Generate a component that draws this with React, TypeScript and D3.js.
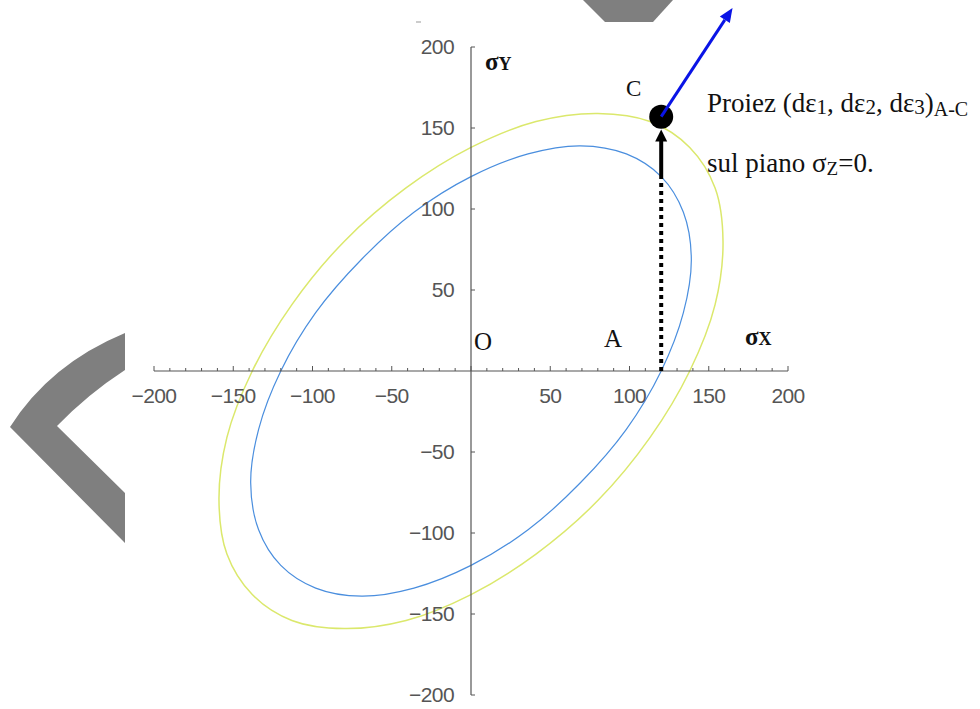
import React from "react";
import * as d3 from "d3";

// Tick values
const xTickValues = [-200, -150, -100, -50, 50, 100, 150, 200];
const yTickValues = [-200, -150, -100, -50, 50, 100, 150, 200];
const xMinorTicks = d3.range(-200, 201, 10);

// Inner (blue) yield curve (σX, σY)
const blueX = [120, 98, 69, 36, 0, -36, -69, -98, -120, -134, -139, -134, -120, -98, -69, -36, 0, 36, 69, 98, 120, 134, 139, 134];
const blueY = [120, 134, 139, 134, 120, 98, 69, 36, 0, -36, -69, -98, -120, -134, -139, -134, -120, -98, -69, -36, 0, 36, 69, 98];

// Outer (yellow) yield curve
const yellowX = [138, 113, 80, 41, 0, -41, -80, -113, -138, -154, -159, -154, -138, -113, -80, -41, 0, 41, 80, 113, 138, 154, 159, 154];
const yellowY = [138, 154, 159, 154, 138, 113, 80, 41, 0, -41, -80, -113, -138, -154, -159, -154, -138, -113, -80, -41, 0, 41, 80, 113];

// Points
const pointA = [120, 0];
const pointC = [120, 157];
const dottedTop = 121;
const blackArrowTip = 149;
const blueArrowTip = [165, 224];

const W = 980;
const H = 709;

export default function App() {
  const x = d3.scaleLinear().domain([-200, 200]).range([154, 788]);
  const y = d3.scaleLinear().domain([-200, 200]).range([695, 47]);

  const line = d3
    .line<[number, number]>()
    .x((d) => x(d[0]))
    .y((d) => y(d[1]))
    .curve(d3.curveCatmullRomClosed.alpha(0.5));

  const bluePts = blueX.map((v, i) => [v, blueY[i]] as [number, number]);
  const yellowPts = yellowX.map((v, i) => [v, yellowY[i]] as [number, number]);

  const x0 = x(0);
  const y0 = y(0);
  const axisColor = "#555";

  const serif = "'Liberation Serif', 'Times New Roman', serif";
  const sans = "'Liberation Sans', Arial, sans-serif";

  const cx = x(pointC[0]);
  const cy = y(pointC[1]);
  const ax = x(pointA[0]);

  // blue arrow geometry
  const bx = x(blueArrowTip[0]);
  const by = y(blueArrowTip[1]);
  const ang = Math.atan2(by - cy, bx - cx);
  const headL = 14;
  const headW = 6;
  const hbx = bx - headL * Math.cos(ang);
  const hby = by - headL * Math.sin(ang);
  const px = -Math.sin(ang);
  const py = Math.cos(ang);

  const kTip = y(blackArrowTip);

  const fmt = (t: number) => (t < 0 ? "\u2212" + Math.abs(t) : String(t));

  return (
    <svg
      width={W}
      height={H}
      style={{ position: "absolute", left: 0, top: 0, background: "#fff" }}
    >
      {/* decorative gray navigation shapes */}
      <path d="M583,0 L673,0 L653,22 L605,22 Z" fill="#7f7f7f" />
      <path
        d="M10,427 Q50,364 125,333 L125,370 Q88,394 57,426 L125,493 L125,543 Z"
        fill="#7f7f7f"
      />
      <line x1={416} y1={22} x2={421} y2={22} stroke="#999" strokeWidth={1} />

      {/* curves */}
      <path d={line(yellowPts) || ""} fill="none" stroke="#dbe86c" strokeWidth={1.5} />
      <path d={line(bluePts) || ""} fill="none" stroke="#4a8ede" strokeWidth={1.2} />

      {/* axes */}
      <line x1={x(-200)} y1={y0} x2={x(200)} y2={y0} stroke={axisColor} strokeWidth={1.2} />
      <line x1={x0} y1={y(200)} x2={x0} y2={y(-200)} stroke={axisColor} strokeWidth={1.2} />
      {xMinorTicks.map((t) => (
        <line
          key={"xm" + t}
          x1={x(t)}
          x2={x(t)}
          y1={y0}
          y2={y0 - (t % 50 === 0 ? 5 : 3)}
          stroke={axisColor}
          strokeWidth={1}
        />
      ))}
      {yTickValues.map((t) => (
        <line
          key={"ym" + t}
          x1={x0}
          x2={x0 + 4}
          y1={y(t)}
          y2={y(t)}
          stroke={axisColor}
          strokeWidth={1}
        />
      ))}
      {xTickValues.map((t) => (
        <text
          key={"xl" + t}
          x={x(t)}
          y={y0 + 32}
          textAnchor="middle"
          fontFamily={sans}
          fontSize={21}
          fill="#555"
          letterSpacing={-0.6}
        >
          {fmt(t)}
        </text>
      ))}
      {yTickValues.map((t) => (
        <text
          key={"yl" + t}
          x={x0 - 17}
          y={y(t) + 7}
          textAnchor="end"
          fontFamily={sans}
          fontSize={21}
          fill="#555"
          letterSpacing={-0.6}
        >
          {fmt(t)}
        </text>
      ))}

      {/* axis labels */}
      <text x={485} y={70} fontFamily={serif} fontWeight="bold" fontSize={25} fill="#111">
        σ<tspan fontSize={18}>Y</tspan>
      </text>
      <text x={745} y={345} fontFamily={serif} fontWeight="bold" fontSize={25} fill="#111">
        σ<tspan fontSize={18}>X</tspan>
      </text>
      <text x={474} y={350} fontFamily={serif} fontSize={25} fill="#111">
        O
      </text>
      <text x={604} y={347} fontFamily={serif} fontSize={25} fill="#111">
        A
      </text>
      <text x={626} y={96} fontFamily={serif} fontSize={23} fill="#111">
        C
      </text>

      {/* dotted projection line */}
      <line
        x1={ax}
        x2={ax}
        y1={y0}
        y2={y(dottedTop)}
        stroke="#000"
        strokeWidth={4}
        strokeDasharray="4 4"
      />
      {/* solid black arrow */}
      <line x1={ax} x2={ax} y1={y(dottedTop)} y2={kTip + 8} stroke="#000" strokeWidth={4} />
      <path
        d={`M${ax},${kTip} L${ax - 6},${kTip + 12} L${ax + 6},${kTip + 12} Z`}
        fill="#000"
      />

      {/* point C */}
      <circle cx={cx} cy={cy} r={12} fill="#000" />

      {/* blue arrow */}
      <line x1={cx} y1={cy} x2={hbx} y2={hby} stroke="#0a14e6" strokeWidth={3} />
      <path
        d={`M${bx},${by} L${hbx + px * headW},${hby + py * headW} L${hbx - px * headW},${hby - py * headW} Z`}
        fill="#0a14e6"
      />

      {/* annotation */}
      <text x={707} y={112} fontFamily={serif} fontSize={27} fill="#111">
        Proiez (dε<tspan fontSize={21} dy={2}>1</tspan>
        <tspan dy={-2}>, dε</tspan>
        <tspan fontSize={21} dy={2}>2</tspan>
        <tspan dy={-2}>, dε</tspan>
        <tspan fontSize={21} dy={2}>3</tspan>
        <tspan dy={-2}>)</tspan>
        <tspan fontSize={20} dy={4}>A-C</tspan>
      </text>
      <text x={707} y={172} fontFamily={serif} fontSize={27} fill="#111">
        sul piano σ<tspan fontSize={19} dy={3}>Z</tspan>
        <tspan dy={-3}>=0.</tspan>
      </text>
    </svg>
  );
}
